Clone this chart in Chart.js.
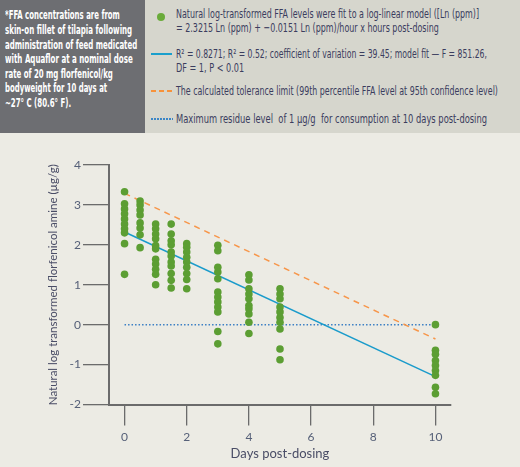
<!DOCTYPE html>
<html>
<head>
<meta charset="utf-8">
<script src="https://cdn.jsdelivr.net/npm/chart.js@4"></script>
<style>
  body { margin: 0; width: 520px; height: 467px; overflow: hidden; position: relative; background: #ecebe4;
         font-family: "Liberation Sans Narrow", "DejaVu Sans Condensed", sans-serif; }
  #band { position: absolute; left: 0; top: 0; width: 520px; height: 133px; background: #d6d6cd; }
  #note { position: absolute; left: 0; top: 0; width: 145px; height: 133px; background: #6d6e72; }
  .nl { position: absolute; left: 5px; white-space: nowrap; color: #fff; font-weight: bold; font-size: 12.5px;
        line-height: 14px; transform-origin: 0 0; }
  .lg { position: absolute; left: 176px; white-space: nowrap; color: #3b3d5e; font-size: 13px; line-height: 14px;
        transform-origin: 0 0; }
  .mk { position: absolute; }
  #chartBox { position: absolute; left: 0; top: 133px; width: 520px; height: 334px; }
</style>
</head>
<body>
<div id="band"></div>
<div id="note">
  <div class="nl" data-w="115" style="top:8px">*FFA concentrations are from</div>
  <div class="nl" data-w="127" style="top:23px">skin-on fillet of tilapia following</div>
  <div class="nl" data-w="132" style="top:38px">administration of feed medicated</div>
  <div class="nl" data-w="128" style="top:52px">with Aquaflor at a nominal dose</div>
  <div class="nl" data-w="108" style="top:67px">rate of 20 mg florfenicol/kg</div>
  <div class="nl" data-w="102" style="top:81px">bodyweight for 10 days at</div>
  <div class="nl" data-w="66" style="top:96px">~27° C (80.6° F).</div>
</div>

<div class="mk" style="left:157px;top:13px;width:8px;height:8px;border-radius:50%;background:#6aab3a"></div>
<div class="lg" data-w="303" style="top:7px">Natural log-transformed FFA levels were fit to a log-linear model ([Ln (ppm)]</div>
<div class="lg" data-w="263" style="top:21px">= 2.3215 Ln (ppm) + −0.0151 Ln (ppm)/hour x hours post-dosing</div>

<div class="mk" style="left:151px;top:53px;width:21px;height:2px;background:#1a9fcc"></div>
<div class="lg" data-w="311" style="top:47px">R² = 0.8271; R² = 0.52; coefficient of variation = 39.45; model fit — F = 851.26,</div>
<div class="lg" data-w="68" style="top:61px">DF = 1, P &lt; 0.01</div>

<div class="mk" style="left:151px;top:90px;width:21px;height:2px;background:repeating-linear-gradient(90deg,#f7923a 0 5px,transparent 5px 8px)"></div>
<div class="lg" data-w="322" style="top:84px">The calculated tolerance limit (99th percentile FFA level at 95th confidence level)</div>

<div class="mk" style="left:151px;top:118px;width:22px;height:1.5px;background:repeating-linear-gradient(90deg,#3b86c6 0 1.5px,transparent 1.5px 3px)"></div>
<div class="lg" data-w="311" style="top:112px">Maximum residue level&nbsp; of 1 µg/g&nbsp; for consumption at 10 days post-dosing</div>

<div id="chartBox"><canvas id="chart" width="520" height="334"></canvas></div>

<script>
// squeeze each text line to the condensed width it has in the original
document.querySelectorAll('[data-w]').forEach(el => {
  el.style.transform = 'scaleX(' + (el.dataset.w / el.scrollWidth) + ')';
});

// tick labels
const xTickValues = [0, 2, 4, 6, 8, 10];
const yTickValues = [-2, -1, 0, 1, 2, 3, 4];

// sampling days and natural-log FFA levels
const sampleDays = [0, 0.5, 1, 1.5, 2, 3, 4, 5, 10];
const lnFfaDay0   = [3.33, 3.03, 2.9, 2.78, 2.65, 2.52, 2.4, 2.3, 2.03, 1.26];
const lnFfaDay0_5 = [3.1, 3.0, 2.87, 2.75, 2.55, 2.42, 2.25, 1.93];
const lnFfaDay1   = [2.52, 2.4, 2.27, 2.15, 1.98, 1.9, 1.64, 1.52, 1.39, 1.26, 1.0];
const lnFfaDay1_5 = [2.52, 2.27, 2.1, 2.0, 1.82, 1.72, 1.57, 1.47, 1.28, 1.11, 0.92];
const lnFfaDay2   = [2.03, 1.94, 1.82, 1.69, 1.57, 1.44, 1.28, 1.13, 0.9];
const lnFfaDay3   = [1.99, 1.85, 1.44, 1.32, 1.15, 0.82, 0.69, 0.57, 0.44, 0.32, -0.17, -0.48];
const lnFfaDay4   = [1.25, 1.12, 0.9, 0.77, 0.65, 0.48, 0.4, 0.27, 0.06, -0.22];
const lnFfaDay5   = [0.9, 0.77, 0.65, 0.44, 0.32, 0.18, 0.06, -0.11, -0.61, -0.88];
const lnFfaDay10  = [0.0, -0.64, -0.74, -0.9, -1.02, -1.15, -1.27, -1.57, -1.73];
const lnFfaByDay = [lnFfaDay0, lnFfaDay0_5, lnFfaDay1, lnFfaDay1_5, lnFfaDay2, lnFfaDay3, lnFfaDay4, lnFfaDay5, lnFfaDay10];

// regression line, tolerance limit, maximum residue level
const fitDays = [0, 10];
const fitLnFfa = [2.3215, -1.3025];
const tolDays = [0, 10];
const tolLnFfa = [3.29, -0.36];
const mrlDays = [0, 10];
const mrlLnFfa = [0, 0];

const toXY = (xs, ys) => xs.map((x, i) => ({ x: x, y: ys[i] }));
const points = sampleDays.flatMap((d, i) => lnFfaByDay[i].map(v => ({ x: d, y: v })));

const axisCol = '#6b6b6b';
const tickFont = { family: 'Lato', size: 12 };

new Chart(document.getElementById('chart'), {
  type: 'scatter',
  data: {
    datasets: [
      { data: points, backgroundColor: '#5c9e33', borderWidth: 0, pointRadius: 3.8, order: 0 },
      { data: toXY(fitDays, fitLnFfa), showLine: true, borderColor: '#1a9bcb', borderWidth: 1.5, pointRadius: 0, order: 1 },
      { data: toXY(tolDays, tolLnFfa), showLine: true, borderColor: '#f7964a', borderWidth: 1.5, borderDash: [6, 5], pointRadius: 0, order: 2 },
      { data: toXY(mrlDays, mrlLnFfa), showLine: true, borderColor: '#3b7fc4', borderWidth: 1.5, borderDash: [1.5, 2], pointRadius: 0, order: 3 }
    ]
  },
  options: {
    responsive: false,
    animation: false,
    layout: { padding: { top: 32, right: 69, left: 0, bottom: 0 } },
    plugins: { legend: { display: false }, tooltip: { enabled: false } },
    scales: {
      x: {
        type: 'linear', min: -0.5, max: 10.5,
        afterBuildTicks: s => { s.ticks = xTickValues.map(v => ({ value: v })); },
        afterFit: s => { s.height = 62.5; },
        grid: { drawOnChartArea: false, tickLength: 21, color: axisCol, lineWidth: 1.3 },
        border: { color: axisCol, width: 2 },
        ticks: { padding: 4, color: '#566078', font: tickFont },
        title: { display: true, text: 'Days post-dosing', color: '#4a4d66',
                 font: { family: 'Lato', size: 13 }, padding: { top: 0, bottom: 5 } }
      },
      y: {
        type: 'linear', min: -2, max: 4,
        afterBuildTicks: s => { s.ticks = yTickValues.map(v => ({ value: v })); },
        afterFit: s => { s.width = 109; },
        grid: { drawOnChartArea: false, tickLength: 26, color: axisCol, lineWidth: 1.3 },
        border: { color: axisCol, width: 2 },
        ticks: { padding: 2, color: '#566078', font: tickFont },
        title: { display: true, text: 'Natural log transformed florfenicol amine (µg/g)', color: '#4a4d66',
                 font: { family: 'Lato', size: 11.5 }, padding: { top: 46, bottom: 0 } }
      }
    }
  }
});
</script>
</body>
</html>
